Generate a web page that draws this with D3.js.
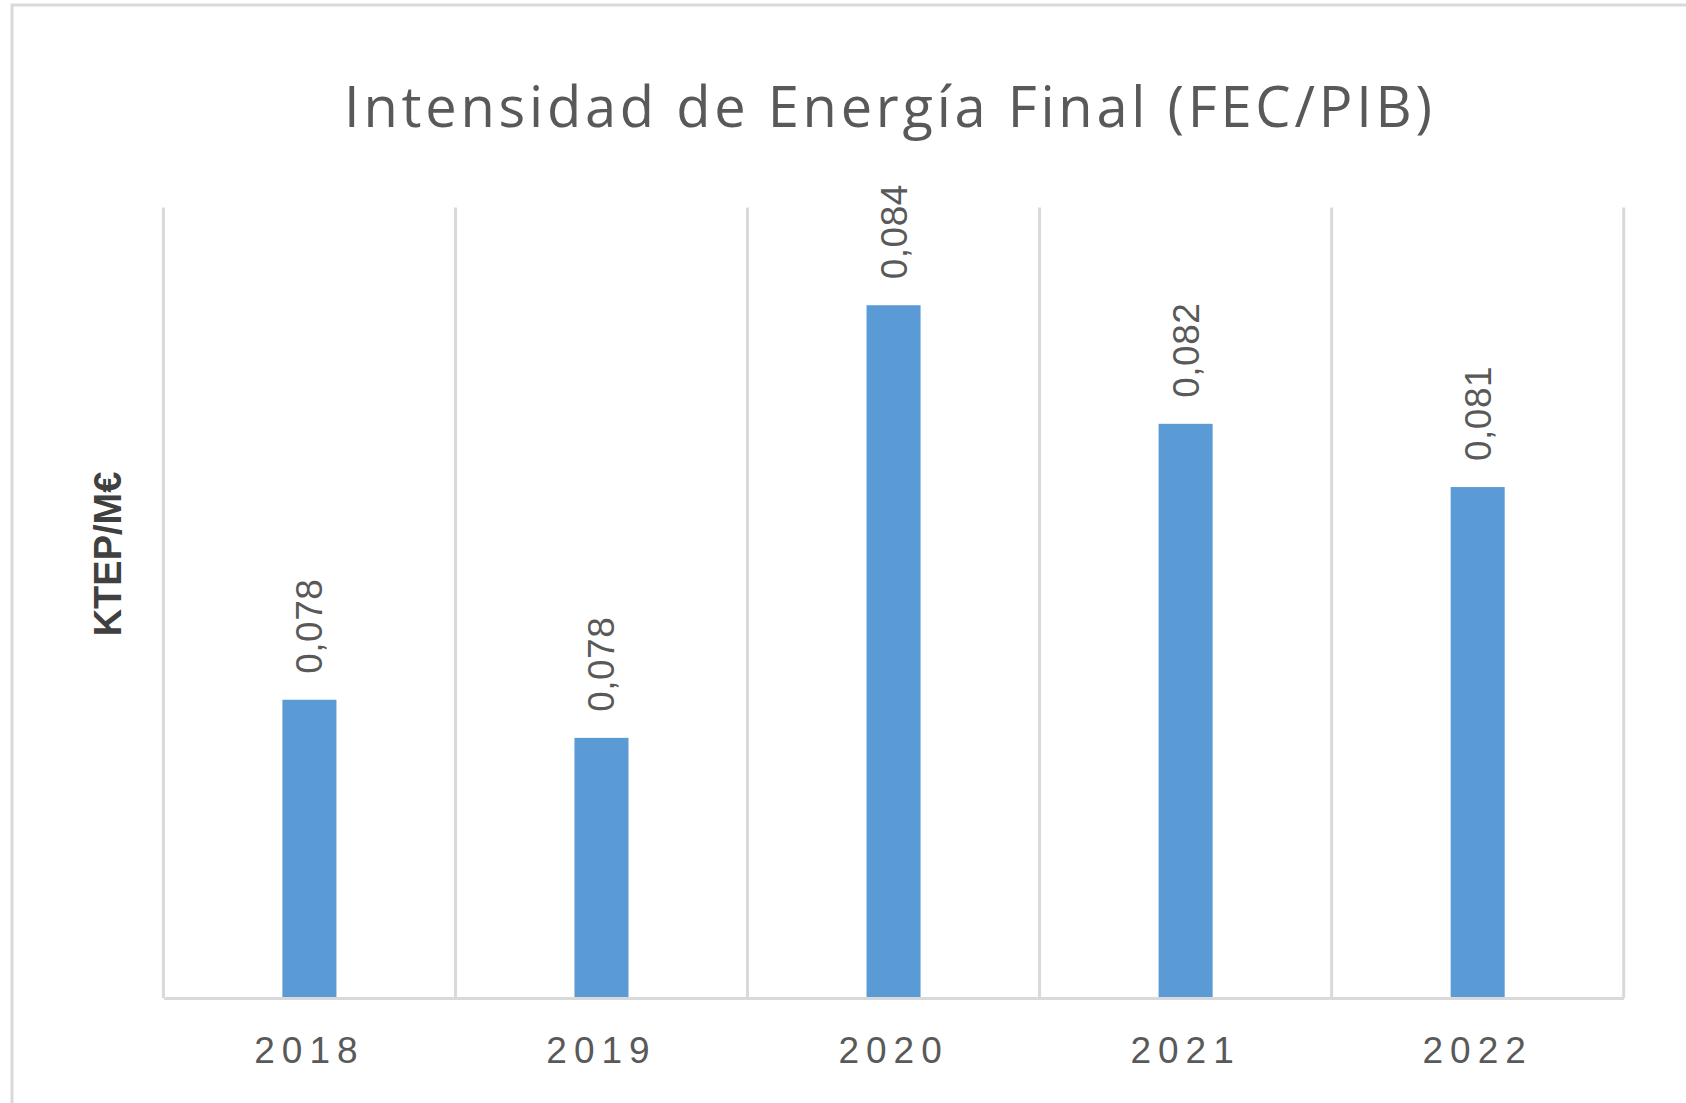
<!DOCTYPE html>
<html>
<head>
<meta charset="utf-8">
<script src="https://cdn.jsdelivr.net/npm/d3@7"></script>
<style>
  body { margin: 0; background: #fff; }
  svg { display: block; }
</style>
</head>
<body>
<div id="chart"></div>
<script>
// data
var years = ["2018", "2019", "2020", "2021", "2022"];
var intensity = [0.07815, 0.07762, 0.08364, 0.08199, 0.08111];
var yDomain = [0.074, 0.085];
var chartTitle = "Intensidad de Energía Final (FEC/PIB)";
var yTitle = "KTEP/M€";

var width = 1686, height = 1103;
var plot = { left: 163.4, right: 1623.7, top: 207.5, bottom: 998 };

var svg = d3.select("#chart").append("svg")
  .attr("width", width)
  .attr("height", height);

// outer chart border
svg.append("rect")
  .attr("x", 12).attr("y", 5)
  .attr("width", width).attr("height", height)
  .attr("fill", "#fff")
  .attr("stroke", "#d9d9d9")
  .attr("stroke-width", 3);

var x = d3.scaleBand()
  .domain(years)
  .range([plot.left, plot.right])
  .padding(0);

var y = d3.scaleLinear()
  .domain(yDomain)
  .range([plot.bottom, plot.top]);

var barW = x.bandwidth() * 0.185;

// vertical gridlines at category boundaries
var bounds = years.map(function(d) { return x(d); }).concat([plot.right]);
svg.selectAll("line.grid")
  .data(bounds)
  .enter()
  .append("line")
  .attr("class", "grid")
  .attr("x1", function(d) { return d; })
  .attr("x2", function(d) { return d; })
  .attr("y1", plot.top)
  .attr("y2", plot.bottom)
  .attr("stroke", "#d9d9d9")
  .attr("stroke-width", 3);

// bars
svg.selectAll("rect.bar")
  .data(intensity)
  .enter()
  .append("rect")
  .attr("class", "bar")
  .attr("fill", "#5b9bd5")
  .attr("x", function(d, i) { return x(years[i]) + (x.bandwidth() - barW) / 2; })
  .attr("width", barW)
  .attr("y", function(d) { return y(d); })
  .attr("height", function(d) { return plot.bottom - y(d); });

// bottom axis
var xAxis = svg.append("g")
  .attr("transform", "translate(0," + plot.bottom + ")")
  .call(d3.axisBottom(x).tickSize(0).tickPadding(0));
xAxis.select(".domain")
  .attr("stroke", "#d9d9d9")
  .attr("stroke-width", 3);
xAxis.selectAll("text")
  .attr("dy", 0)
  .attr("y", 65)
  .attr("fill", "#595959")
  .style("font-family", "'Liberation Sans', Arial, sans-serif")
  .style("font-size", "37px")
  .style("letter-spacing", "7px");

// value labels
var fmt = d3.format(".3f");
svg.selectAll("text.value")
  .data(intensity)
  .enter()
  .append("text")
  .attr("class", "value")
  .attr("transform", function(d, i) {
    var cx = x(years[i]) + x.bandwidth() / 2 + 13;
    return "translate(" + cx + "," + (y(d) - 26) + ") rotate(-90)";
  })
  .attr("fill", "#595959")
  .style("font-family", "'Liberation Sans', Arial, sans-serif")
  .style("font-size", "37px")
  .style("letter-spacing", "0.5px")
  .text(function(d) { return fmt(d).replace(".", ","); });

// chart title
svg.append("text")
  .attr("x", 888)
  .attr("y", 127)
  .attr("text-anchor", "middle")
  .attr("fill", "#595959")
  .attr("textLength", 1088)
  .attr("lengthAdjust", "spacing")
  .style("font-family", "'Open Sans', sans-serif")
  .style("font-size", "56px")
  .text(chartTitle);

// y axis title
svg.append("text")
  .attr("transform", "translate(121,554) rotate(-90)")
  .attr("text-anchor", "middle")
  .attr("fill", "#404040")
  .style("font-family", "'Liberation Sans', Arial, sans-serif")
  .style("font-weight", "bold")
  .style("font-size", "38px")
  .text(yTitle);
</script>
</body>
</html>
